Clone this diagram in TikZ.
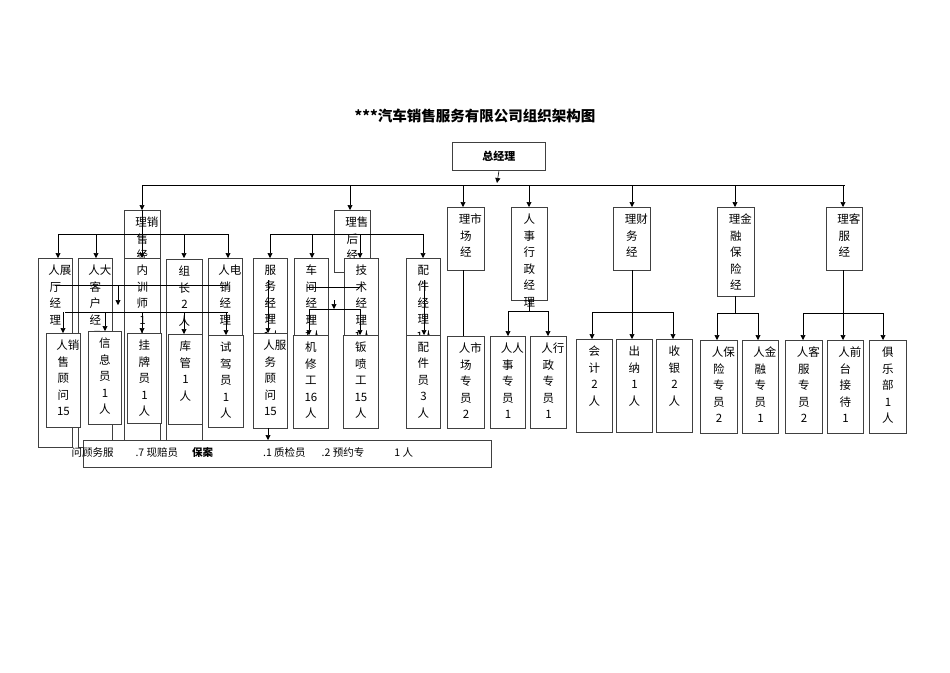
\documentclass[tikz,border=0pt]{standalone}
\usepackage{fontspec}
\newfontfamily\cjk{Noto Sans CJK SC}
\usetikzlibrary{arrows.meta}
\tikzset{
  bx/.style={draw=black!75, line width=0.9pt, fill=white, rectangle, inner sep=0pt, anchor=north west},
  vt/.style={font=\cjk\fontsize{11.5}{16.5}\selectfont, align=center, inner sep=0pt, text width=14pt, anchor=north},
  ln/.style={line width=0.6pt},
  ar/.style={line width=0.6pt, -{Triangle[length=5pt,width=5pt]}}
}
\newcommand\obox[6]{%
  \node[bx, minimum width={#4-#2}, minimum height={#5-#3}] (#1) at (#2,#3) {};
  \node[vt] (#1-t) at ([yshift=-7pt]#1.north) {#6};}
\begin{document}
\begin{tikzpicture}[x=1pt,y=-1pt]
\useasboundingbox (0,0) rectangle (950,672);
\node[font=\cjk\bfseries\fontsize{14.5}{16}\selectfont] (title) at (475,116) {***汽车销售服务有限公司组织架构图};
\node[bx, minimum width=93, minimum height=28] (gm) at (452,142) {};
\node[font=\cjk\bfseries\fontsize{11}{12}\selectfont] at (gm.center) {总经理};
\draw[ar] (gm.south) -- (497,183);
\draw[ln] (142,185) -- (845,185);
% level 1
\obox{sm}{124}{210}{160}{272}{理销\\售\\经}
\obox{am}{334}{210}{370}{272}{理售\\后\\经}
\obox{mm}{447}{207}{484}{270}{理市\\场\\经}
\obox{hm}{511}{207}{547}{300}{人\\事\\行\\政\\经\\理}
\obox{fm}{613}{207}{650}{270}{理财\\务\\经}
\obox{im}{717}{207}{754}{296}{理金\\融\\保\\险\\经}
\obox{cm}{826}{207}{862}{270}{理客\\服\\经}
\foreach \n/\x in {sm/142,am/350,mm/463,hm/529,fm/632,im/735,cm/843}
  \draw[ar] (\x,185) -- (\x,185 |- \n.north);
% sales level 2
\draw[ln] (58,234) -- (228,234);
\draw[ln] (142,210) -- (142,234);
\obox{s1}{38}{258}{72}{447}{人展\\厅\\经\\理}
\obox{s2}{78}{258}{112}{447}{人大\\客\\户\\经\\理}
\obox{s3}{124}{258}{160}{447}{内\\训\\师\\1\\人}
\obox{s4}{166}{259}{202}{445}{组\\长\\2\\人}
\obox{s5}{208}{258}{242}{335}{人电\\销\\经\\理}
\foreach \x in {58,96,142,184,228}
  \draw[ar] (\x,234) -- (\x,258);
\draw[ln] (55,285) -- (228,285);
\draw[ln] (65,312) -- (228,312);
\draw[ar] (118,285) -- (118,305);
% sales level 3
\obox{t1}{46}{333}{80}{427}{人销\\售\\顾\\问\\15}
\obox{t2}{88}{331}{121}{424}{信\\息\\员\\1\\人}
\obox{t3}{127}{333}{161}{423}{挂\\牌\\员\\1\\人}
\obox{t4}{168}{334}{202}{424}{库\\管\\1\\人}
\obox{t5}{208}{335}{243}{427}{试\\驾\\员\\1\\人}
\foreach \x/\n in {63/t1,105/t2,142/t3,184/t4,226/t5}
  \draw[ar] (\x,312) -- (\x,312 |- \n.north);
% after-sales level 2
\draw[ln] (270,234) -- (423,234);
\obox{a1}{253}{258}{287}{345}{服\\务\\经\\理\\1人}
\obox{a2}{294}{258}{328}{345}{车\\间\\经\\理\\1人}
\obox{a3}{344}{258}{378}{345}{技\\术\\经\\理\\1人}
\obox{a4}{406}{258}{440}{335}{配\\件\\经\\理\\1人}
\foreach \x in {270,312,360,423}
  \draw[ar] (\x,234) -- (\x,258);
\draw[ln] (307,287) -- (360,287);
\draw[ln] (309,309) -- (360,309);
\draw[ar] (334,300) -- (334,309);
% after-sales level 3
\obox{b1}{253}{333}{287}{428}{人服\\务\\顾\\问\\15}
\obox{b2}{293}{335}{328}{428}{机\\修\\工\\16\\人}
\obox{b3}{343}{335}{378}{428}{钣\\喷\\工\\15\\人}
\obox{b4}{406}{335}{440}{428}{配\\件\\员\\3\\人}
\draw[ar] (268,280) -- (268,280 |- b1.north);
\draw[ar] (309,309) -- (309,309 |- b2.north);
\draw[ar] (360,309) -- (360,309 |- b3.north);
\draw[ar] (424,280) -- (424,280 |- b4.north);
% bottom strip
\node[bx, minimum width=408, minimum height=27] (strip) at (83,440) {};
\draw[ar] (268,428) -- (268,440);
\node[font=\cjk\fontsize{10.5}{12}\selectfont, anchor=west] (striptext) at (68,452) {问顾务服\hspace{22pt}.7 现赔员\hspace{14pt}\textbf{保案}\hspace{50pt}.1 质检员\hspace{16pt}.2 预约专\hspace{30pt}1 人};
% market
\obox{m1}{447}{336}{484}{428}{人市\\场\\专\\员\\2}
\draw[ln] (463,270) -- (463,336);
% HR
\draw[ln] (508,311) -- (548,311);
\obox{h1}{490}{336}{525}{428}{人人\\事\\专\\员\\1}
\obox{h2}{530}{336}{566}{428}{人行\\政\\专\\员\\1}
\draw[ar] (508,311) -- (508,336);
\draw[ar] (548,311) -- (548,336);
\draw[ln] (529,300) -- (529,311);
% finance
\draw[ln] (592,312) -- (673,312);
\obox{f1}{576}{339}{612}{432}{会\\计\\2\\人}
\obox{f2}{616}{339}{652}{432}{出\\纳\\1\\人}
\obox{f3}{656}{339}{692}{432}{收\\银\\2\\人}
\draw[ln] (632,270) -- (632,312);
\foreach \x in {592,632,673} \draw[ar] (\x,312) -- (\x,339);
% insurance
\draw[ln] (717,313) -- (758,313);
\obox{i1}{700}{340}{737}{433}{人保\\险\\专\\员\\2}
\obox{i2}{742}{340}{778}{433}{人金\\融\\专\\员\\1}
\draw[ln] (735,296) -- (735,313);
\draw[ar] (717,313) -- (717,340);
\draw[ar] (758,313) -- (758,340);
% customer service
\draw[ln] (803,313) -- (883,313);
\obox{c1}{785}{340}{822}{433}{人客\\服\\专\\员\\2}
\obox{c2}{827}{340}{863}{433}{人前\\台\\接\\待\\1}
\obox{c3}{869}{340}{906}{433}{俱\\乐\\部\\1\\人}
\draw[ln] (843,270) -- (843,313);
\foreach \x in {803,843,883} \draw[ar] (\x,313) -- (\x,340);
\end{tikzpicture}
\end{document}
